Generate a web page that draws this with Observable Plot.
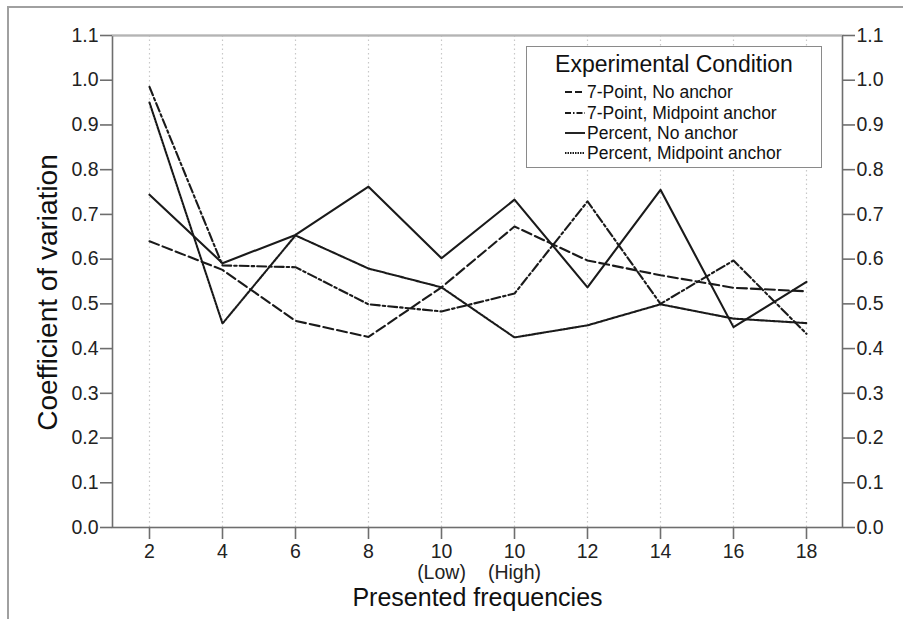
<!DOCTYPE html>
<html>
<head>
<meta charset="utf-8">
<script src="https://cdn.jsdelivr.net/npm/d3@7"></script>
<script src="https://cdn.jsdelivr.net/npm/@observablehq/plot@0.6"></script>
<style>
  html, body { margin: 0; padding: 0; background: #fff; overflow: hidden; }
  #wrap { position: relative; width: 903px; height: 619px; font-family: "Liberation Sans", Arial, sans-serif; color: #111; }
  #frame { position: absolute; left: 7px; top: 6px; width: 1000px; height: 1000px; border-top: 2px solid #a0a0a0; border-left: 2px solid #a0a0a0; }
  #chart { position: absolute; left: 0; top: 0; }
  #legend { position: absolute; left: 526px; top: 46px; width: 294px; height: 120px; border: 1.5px solid #8a8a8a; background: #fff; }
  #legend .title { position: absolute; left: 0; width: 100%; top: 3px; text-align: center; font-size: 23px; line-height: 28px; }
  #legend .item { position: absolute; left: 38px; height: 20px; font-size: 17.5px; line-height: 20px; white-space: nowrap; }
  #legend .item svg { vertical-align: middle; margin-right: 2px; position: relative; top: -1px; }
</style>
</head>
<body>
<div id="wrap">
  <div id="frame"></div>
  <div id="chart"></div>
  <div id="legend"></div>
</div>
<script>
// Categories (x axis) and their tick labels
const categories = ["2", "4", "6", "8", "10L", "10H", "12", "14", "16", "18"];
const tickLabels = ["2", "4", "6", "8", "10\n(Low)", "10\n(High)", "12", "14", "16", "18"];
const yTicks = [0, 0.1, 0.2, 0.3, 0.4, 0.5, 0.6, 0.7, 0.8, 0.9, 1.0, 1.1];

// Series names
const seriesNames = ["7-Point, No anchor", "7-Point, Midpoint anchor", "Percent, No anchor", "Percent, Midpoint anchor"];

// Series values (coefficient of variation)
const sevenPointNoAnchor = [0.640, 0.576, 0.462, 0.426, 0.537, 0.673, 0.597, 0.564, 0.536, 0.528];
const sevenPointMidAnchor = [0.985, 0.586, 0.582, 0.499, 0.483, 0.523, 0.729, 0.500, 0.597, 0.433];
const percentNoAnchor = [0.744, 0.591, 0.654, 0.762, 0.602, 0.733, 0.537, 0.755, 0.448, 0.549];
const percentMidAnchor = [0.950, 0.456, 0.653, 0.579, 0.537, 0.425, 0.452, 0.499, 0.467, 0.457];

const seriesValues = [sevenPointNoAnchor, sevenPointMidAnchor, percentNoAnchor, percentMidAnchor];
const dashes = ["10,4", "9,3,2.5,3", null, "2,1.2"];
const lineColor = "#1a1a1a";

const rows = seriesNames.map((s, k) => categories.map((c, i) => ({x: c, y: seriesValues[k][i], s})));

const fontFamily = '"Liberation Sans", Arial, sans-serif';
const axisColor = "#6e6e6e";

const lineMarks = rows.map((r, k) => Plot.lineY(r, {
  x: "x", y: "y",
  stroke: lineColor, strokeWidth: 2.1,
  strokeDasharray: dashes[k] || undefined
}));

const chart = Plot.plot({
  width: 903,
  height: 619,
  marginLeft: 112,
  marginRight: 61,
  marginTop: 35,
  marginBottom: 92,
  style: {fontFamily, background: "transparent", color: "#222"},
  x: {type: "point", domain: categories, padding: 0.5},
  y: {domain: [0, 1.1]},
  marks: [
    Plot.ruleX(categories, {stroke: "#c8c8c8", strokeWidth: 1.2, strokeDasharray: "1.5,3"}),
    Plot.frame({stroke: axisColor, strokeWidth: 1.6}),
    Plot.ruleY([1.1], {stroke: "#b4b4b4", strokeWidth: 1.6}),
    Plot.axisY({anchor: "left", ticks: yTicks, tickFormat: d => d.toFixed(1), tickSize: 12, tickPadding: 2, fontSize: 19.5, label: null, stroke: axisColor, strokeWidth: 1.6, fill: "#222"}),
    Plot.axisY({anchor: "right", ticks: yTicks, tickFormat: d => d.toFixed(1), tickSize: 12, tickPadding: 2, fontSize: 19.5, label: null, stroke: axisColor, strokeWidth: 1.6, fill: "#222"}),
    Plot.axisX({tickFormat: d => tickLabels[categories.indexOf(d)], tickSize: 12, tickPadding: 4, fontSize: 19.5, lineHeight: 1.05, label: null, stroke: axisColor, strokeWidth: 1.6, fill: "#222"}),
    ...lineMarks,
    Plot.text(["Coefficient of variation"], {frameAnchor: "left", textAnchor: "middle", lineAnchor: "middle", rotate: -90, dx: -64, dy: 11, fontSize: 28, fill: "#111"}),
    Plot.text(["Presented frequencies"], {frameAnchor: "bottom", textAnchor: "middle", lineAnchor: "middle", dy: 70, fontSize: 25, fill: "#111"})
  ]
});
document.getElementById("chart").appendChild(chart);

// Legend
const legend = document.getElementById("legend");
const t = document.createElement("div");
t.className = "title";
t.textContent = "Experimental Condition";
legend.appendChild(t);
const legendDashes = ["7,3", "6,2,1.5,2", null, "1.5,1"];
const rowTops = [35, 56, 76, 96];
seriesNames.forEach((name, k) => {
  const d = document.createElement("div");
  d.className = "item";
  d.style.top = rowTops[k] + "px";
  const ns = "http://www.w3.org/2000/svg";
  const svg = document.createElementNS(ns, "svg");
  svg.setAttribute("width", 20);
  svg.setAttribute("height", 10);
  const ln = document.createElementNS(ns, "line");
  ln.setAttribute("x1", 0); ln.setAttribute("x2", 20);
  ln.setAttribute("y1", 5); ln.setAttribute("y2", 5);
  ln.setAttribute("stroke", lineColor);
  ln.setAttribute("stroke-width", 1.9);
  if (legendDashes[k]) ln.setAttribute("stroke-dasharray", legendDashes[k]);
  svg.appendChild(ln);
  d.appendChild(svg);
  d.appendChild(document.createTextNode(name));
  legend.appendChild(d);
});
</script>
</body>
</html>
